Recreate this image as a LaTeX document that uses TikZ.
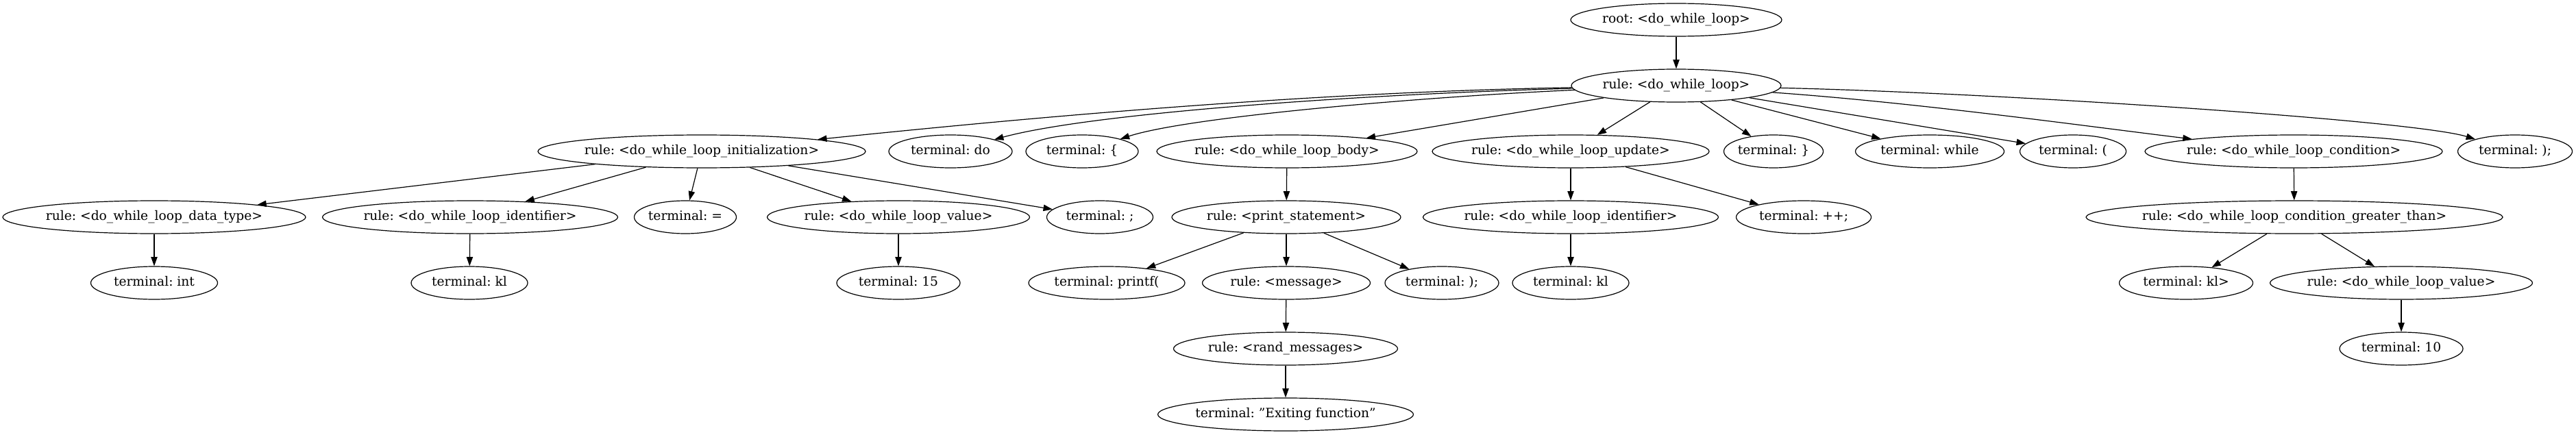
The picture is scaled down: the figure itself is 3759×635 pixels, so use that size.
\documentclass[tikz,border=0pt]{standalone}
\usepackage{fontspec}
\setmainfont{DejaVu Serif}
\usetikzlibrary{shapes.geometric,arrows.meta}
\newcommand{\zw}[1]{\makebox[0pt][c]{#1}}
\frenchspacing
\begin{document}
\begin{tikzpicture}[x=0.75pt,y=-0.75pt,
  tn/.style={ellipse,draw,line width=0.9pt,inner sep=0pt,
    minimum height=36pt,minimum width=#1*0.75pt,
    font=\fontsize{14pt}{16pt}\selectfont\frenchspacing,text height=10pt,text depth=3pt},
  edge/.style={draw,line width=0.9pt,-{Triangle[length=10pt,width=7pt]}}]
\useasboundingbox (0,0) rectangle (3759,635);
\node[tn=308] (root) at (2446,29) {\zw{root: <do\_while\_loop>}};
\node[tn=306] (dwl) at (2446,125) {\zw{rule: <do\_while\_loop>}};
\node[tn=478] (init) at (1024,221) {\zw{rule: <do\_while\_loop\_initialization>}};
\node[tn=180] (tdo) at (1387,221) {\zw{terminal: do}};
\node[tn=164] (tlb) at (1579,221) {\zw{terminal: \{}};
\node[tn=380] (body) at (1878,221) {\zw{rule: <do\_while\_loop\_body>}};
\node[tn=404] (upd) at (2292,221) {\zw{rule: <do\_while\_loop\_update>}};
\node[tn=145] (trb) at (2588,221) {\zw{terminal: \}}};
\node[tn=217] (twhile) at (2816,221) {\zw{terminal: while}};
\node[tn=155] (tlp) at (3025,221) {\zw{terminal: (}};
\node[tn=434] (cond) at (3347,221) {\zw{rule: <do\_while\_loop\_condition>}};
\node[tn=167] (trp) at (3670,221) {\zw{terminal: );}};
\node[tn=442] (dtype) at (225,317) {\zw{rule: <do\_while\_loop\_data\_type>}};
\node[tn=431] (ident) at (686,317) {\zw{rule: <do\_while\_loop\_identifier>}};
\node[tn=149] (teq) at (1000,317) {\zw{terminal: =}};
\node[tn=383] (val) at (1311,317) {\zw{rule: <do\_while\_loop\_value>}};
\node[tn=155] (tsemi) at (1605,317) {\zw{terminal: ;}};
\node[tn=334] (pst) at (1877,317) {\zw{rule: <print\_statement>}};
\node[tn=431] (ident2) at (2292,317) {\zw{rule: <do\_while\_loop\_identifier>}};
\node[tn=197] (tpp) at (2632,317) {\zw{terminal: ++;}};
\node[tn=608] (cgt) at (3348,317) {\zw{rule: <do\_while\_loop\_condition\_greater\_than>}};
\node[tn=185] (tint) at (225,413) {\zw{terminal: int}};
\node[tn=170] (tkl) at (685,413) {\zw{terminal: kl}};
\node[tn=180] (t15) at (1311,413) {\zw{terminal: 15}};
\node[tn=228] (tprintf) at (1615,413) {\zw{terminal: printf(}};
\node[tn=245] (msg) at (1877,413) {\zw{rule: <message>}};
\node[tn=166] (trp2) at (2104,413) {\zw{terminal: );}};
\node[tn=170] (tkl2) at (2292,413) {\zw{terminal: kl}};
\node[tn=195] (tklgt) at (3190,413) {\zw{terminal: kl>}};
\node[tn=383] (val2) at (3504,413) {\zw{rule: <do\_while\_loop\_value>}};
\node[tn=327] (rmsg) at (1876,509) {\zw{rule: <rand\_messages>}};
\node[tn=180] (t10) at (3504,509) {\zw{terminal: 10}};
\node[tn=373] (texit) at (1876,605) {\zw{terminal: "Exiting function"}};
\foreach \a/\b in {root/dwl,dwl/body,dwl/upd,dwl/trb,dwl/twhile,dwl/tlp,
  init/dtype,init/ident,init/teq,init/val,init/tsemi,body/pst,upd/ident2,upd/tpp,cond/cgt,
  dtype/tint,ident/tkl,val/t15,pst/tprintf,pst/msg,pst/trp2,ident2/tkl2,cgt/tklgt,cgt/val2,
  msg/rmsg,val2/t10,rmsg/texit}
  \path[edge] (\a) -- (\b);
\path[edge] (dwl) .. controls (1900,135) and (1500,172) .. (init);
\path[edge] (dwl) .. controls (2000,137) and (1597,164) .. (tdo);
\path[edge] (dwl) .. controls (2100,140) and (1739,169) .. (tlb);
\path[edge] (dwl) .. controls (2800,150) and (3050,185) .. (cond);
\path[edge] (dwl) .. controls (2900,135) and (3520,175) .. (trp);
\end{tikzpicture}
\end{document}
